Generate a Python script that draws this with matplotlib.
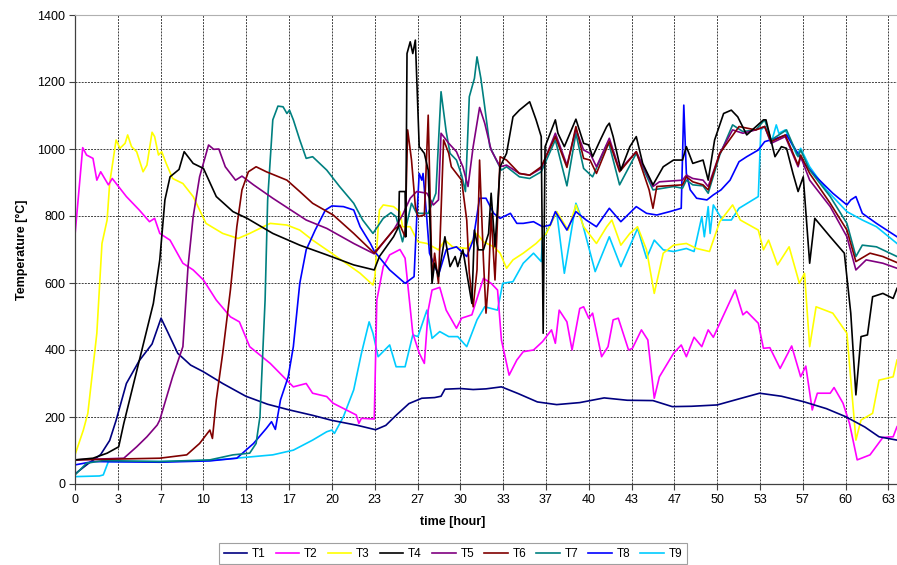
import numpy as np
import matplotlib
matplotlib.use('Agg')
import matplotlib.pyplot as plt
from matplotlib.ticker import FixedLocator, FuncFormatter

plt.rcParams['font.family'] = ['Liberation Sans', 'DejaVu Sans']

# sensor readings, time in hours / temperature in degC
t1 = [0, 1, 2, 2.7, 3.2, 4, 5, 6, 6.7, 7.2, 8, 9, 10, 11.5, 13.3, 15, 16.7, 18.5, 20, 22, 23.4,
      24.2, 25, 26, 27, 28, 28.5, 28.8, 30, 31, 32, 33.2, 34.5, 36, 37.5, 39.3, 41.2, 43, 45, 46.5,
      48, 50, 51.5, 53.3, 55, 56.7, 58.5, 60, 61.5, 62.6, 64]
T1 = [30, 60, 88, 130, 190, 300, 368, 418, 495, 455, 390, 355, 335, 300, 262, 238, 221, 205, 190, 175, 162,
      175, 205, 240, 256, 258, 262, 283, 285, 282, 284, 290, 270, 245, 237, 243, 257, 250, 249, 231,
      232, 236, 252, 271, 262, 246, 225, 201, 170, 141, 131]

t2 = [0, 0.6, 0.9, 1.4, 1.7, 2.0, 2.6, 2.9, 4.0, 5.0, 5.8, 6.2, 6.6, 7.4, 8.4, 9.2, 10.0, 11.0, 12.1,
      12.8, 13.6, 15.2, 17.0, 18.0, 18.5, 19.6, 20.1, 21.9, 22.1, 22.3, 23.3, 23.5, 24.0, 24.5, 25.3,
      25.7, 26.3, 26.8, 27.2, 27.5, 27.8, 28.4, 28.9, 29.7, 30.1, 30.5, 30.9, 31.8, 32.4, 32.9, 33.2,
      33.8, 34.4, 34.9, 35.7, 36.4, 37.1, 37.4, 37.7, 38.3, 38.7, 39.3, 39.6, 40.0, 40.3, 41.0, 41.5,
      41.9, 42.3, 43.1, 43.4, 44.1, 44.6, 45.1, 45.5, 46.6, 47.2, 47.6, 48.2, 48.8, 49.3, 49.7, 51.4,
      52.0, 52.3, 53.2, 53.6, 54.1, 54.9, 55.8, 56.5, 56.9, 57.4, 57.8, 58.8, 59.1, 59.8, 60.3, 60.9,
      61.9, 62.9, 63.7, 64]
T2 = [743, 1004, 982, 972, 907, 932, 893, 912, 858, 818, 783, 793, 748, 728, 659, 639, 609, 549, 499,
      484, 410, 360, 290, 300, 271, 261, 241, 206, 181, 196, 194, 549, 649, 684, 700,
      674, 450, 391, 360, 519, 579, 587, 519, 465, 495, 500, 505, 614, 599, 579, 430,
      325, 370, 395, 400, 425, 460, 420, 519, 484, 400, 524, 529, 495, 510, 380, 410,
      490, 495, 400, 405, 460, 430, 256, 320, 390, 415, 380, 438, 410, 460, 438, 579,
      505, 515, 480, 405, 407, 345, 412, 320, 352, 221, 271, 271, 288, 241, 181, 72,
      87, 139, 141, 171]

t3 = [0, 0.65, 1.0, 1.7, 2.1, 2.5, 2.7, 3.2, 3.5, 3.9, 4.1, 4.4, 4.8, 5.3, 5.6, 6.0, 6.2, 6.5, 6.75,
      7.1, 7.6, 8.4, 9.2, 10.2, 11.5, 12.7, 13.6, 15.2, 16.5, 17.5, 18.5, 19.6, 21.1, 22.2, 23.2,
      23.35, 23.7, 24.0, 24.8, 25.3, 25.5, 26.1, 26.7, 27.4, 28.3, 28.8, 29.4, 30.5, 31.3, 31.8,
      32.6, 33.1, 33.6, 34.1, 34.9, 35.9, 36.7, 37.5, 38.4, 39.0, 39.6, 40.6, 41.4, 41.8, 42.5,
      43.2, 43.8, 44.5, 45.1, 45.8, 46.6, 47.6, 48.4, 49.4, 50.2, 51.2, 51.8, 53.2, 53.6, 54.0,
      54.7, 55.6, 56.4, 56.8, 57.2, 57.7, 59.0, 60.1, 60.8, 61.2, 62.1, 62.6, 63.7, 64]
T3 = [87, 161, 211, 450, 718, 788, 898, 1027, 1002, 1017, 1042, 1007, 992, 932, 952, 1050, 1037, 982, 992,
      957, 912, 897, 858, 778, 748, 733, 748, 778, 773, 758, 728, 699, 659, 629, 594,
      620, 818, 833, 828, 813, 768, 768, 723, 718, 699, 728, 708, 703, 748, 723,
      708, 689, 644, 669, 689, 718, 748, 813, 758, 833, 768, 718, 768, 788, 713,
      748, 768, 699, 569, 689, 713, 718, 703, 694, 783, 833, 788, 758, 699, 728,
      654, 708, 599, 629, 410, 529, 510, 450, 131, 191, 211, 310, 320, 370]

t4 = [0, 1.4, 2.5, 3.4, 3.8, 4.5, 5.4, 6.1, 6.6, 7.0, 7.4, 8.1, 8.5, 9.2, 10.0, 11.0, 12.3, 13.4, 15.4,
      17.5, 19.6, 21.7, 23.3, 23.7, 24.8, 25.2, 25.25, 25.7, 25.75, 25.85, 26.1, 26.3, 26.5, 26.8,
      27.2, 27.5, 27.8, 28.0, 28.3, 28.8, 29.2, 29.6, 29.8, 30.2, 30.9, 31.1, 31.4, 31.8, 32.2,
      32.4, 32.7, 33.1, 33.6, 34.1, 34.6, 35.4, 35.9, 36.3, 36.45, 36.6, 37.0, 37.4, 37.6, 38.1,
      39.0, 39.6, 40.0, 40.3, 40.9, 41.4, 41.6, 41.9, 42.5, 43.2, 43.7, 44.2, 45.0, 45.8, 46.6,
      47.3, 47.6, 48.1, 48.9, 49.3, 49.8, 50.5, 51.1, 51.6, 52.3, 53.6, 53.8, 54.5, 55.0, 55.4,
      55.9, 56.3, 56.7, 57.2, 57.6, 58.8, 59.9, 60.4, 60.8, 61.2, 61.7, 62.1, 62.9, 63.7, 64]
T4 = [72, 77, 92, 111, 181, 290, 430, 539, 669, 848, 917, 939, 992, 957, 942, 858, 813, 793, 748,
      713, 684, 654, 639, 679, 738, 768, 873, 873, 738, 1285, 1320, 1285, 1325, 1007,
      987, 937, 599, 659, 619, 738, 649, 679, 649, 699, 539, 758, 699, 699, 748,
      868, 708, 947, 987, 1096, 1116, 1141, 1087, 1037, 450, 1007, 1047, 1087, 1047, 1007,
      1089, 1017, 1012, 977, 1027, 1067, 1077, 1037, 937, 1007, 1037, 957, 893, 947, 967,
      967, 1007, 957, 967, 907, 1027, 1106, 1116, 1096, 1042, 1087, 1087, 977, 1007, 1002,
      927, 873, 917, 659, 793, 738, 689, 510, 266, 440, 445, 559, 569, 554, 584]

t5 = [0, 3.8, 4.8, 5.6, 6.4, 6.6, 7.6, 8.4, 8.8, 9.2, 9.7, 10.4, 10.8, 11.2, 11.7, 12.5, 13.0, 13.9,
      15.4, 17.0, 18.0, 19.6, 21.7, 23.3, 24.8, 25.5, 26.1, 26.6, 27.4, 27.9, 28.3, 28.5, 29.1,
      29.7, 30.2, 30.6, 31.0, 31.5, 31.9, 32.4, 33.1, 33.6, 34.6, 35.4, 36.3, 37.4, 38.3, 39.0,
      39.6, 40.1, 40.6, 41.6, 42.4, 43.7, 45.0, 45.5, 47.3, 47.6, 48.1, 48.9, 49.3, 50.2, 51.2,
      52.0, 53.0, 53.7, 54.2, 55.3, 56.3, 56.5, 57.2, 58.8, 60.1, 60.8, 61.6, 62.9, 64]
T5 = [72, 77, 111, 141, 176, 191, 320, 410, 649, 798, 917, 1012, 999, 1000, 947, 907, 919, 893,
      853, 813, 788, 763, 718, 687, 758, 803, 853, 873, 868, 833, 848, 1047, 1017,
      992, 947, 888, 1007, 1124, 1077, 997, 947, 952, 927, 922, 942, 1047, 952, 1059,
      997, 987, 947, 1032, 937, 992, 888, 902, 907, 922, 912, 907, 888, 987, 1057,
      1047, 1057, 1067, 1017, 1037, 947, 977, 907, 828, 738, 639, 669, 659, 644]

t6 = [0, 6.6, 8.7, 9.7, 10.5, 10.7, 11.0, 11.5, 12.1, 12.6, 13.0, 13.5, 14.1, 14.9, 16.5, 17.5, 18.5,
      20.1, 21.7, 23.3, 24.8, 25.3, 25.7, 25.9, 26.2, 26.5, 26.7, 27.2, 27.5, 27.8, 28.0, 28.3,
      28.7, 29.1, 29.3, 29.7, 30.1, 30.5, 30.7, 31.0, 31.3, 31.5, 31.8, 32.0, 32.2, 32.4, 32.7,
      33.1, 33.6, 34.6, 35.4, 36.3, 37.4, 38.3, 39.0, 39.6, 40.1, 40.6, 41.6, 42.4, 43.7, 44.7,
      45.0, 45.3, 47.3, 47.6, 48.1, 48.9, 49.3, 50.2, 51.7, 53.0, 53.7, 54.2, 55.3, 56.3, 56.5,
      57.2, 58.8, 60.1, 60.8, 61.9, 62.9, 64]
T6 = [72, 77, 87, 121, 161, 136, 251, 390, 579, 768, 878, 932, 947, 932, 907, 873, 838,
      803, 748, 689, 758, 773, 738, 1057, 967, 828, 798, 803, 1101, 609, 689, 599,
      1027, 987, 947, 927, 907, 788, 629, 529, 639, 967, 669, 510, 609, 808, 609,
      977, 967, 927, 922, 947, 1037, 945, 1067, 972, 967, 927, 1022, 932, 992, 878,
      823, 888, 893, 917, 902, 893, 878, 987, 1067, 1057, 1067, 1022, 1042, 952, 982,
      927, 838, 758, 664, 689, 679, 661]

t7 = [0, 0.9, 2.2, 6.6, 10.5, 12.3, 13.6, 14.1, 14.4, 14.8, 15.0, 15.4, 15.8, 16.2, 16.5, 16.7, 17.0,
      17.5, 18.0, 18.5, 19.6, 20.6, 21.7, 22.4, 23.2, 24.0, 24.6, 25.0, 25.5, 25.9, 26.2, 26.6,
      27.5, 28.1, 28.5, 28.9, 29.2, 29.7, 30.1, 30.4, 30.7, 31.1, 31.3, 31.6, 31.9, 32.3, 32.8,
      33.2, 33.6, 34.6, 35.4, 36.3, 37.4, 38.3, 39.0, 39.6, 40.3, 41.4, 41.6, 42.4, 43.7, 45.0,
      46.6, 47.3, 47.6, 48.1, 48.9, 49.3, 50.2, 51.2, 52.0, 53.0, 53.7, 54.2, 55.4, 56.3, 56.5,
      57.2, 58.8, 60.1, 60.8, 61.3, 62.4, 64]
T7 = [27, 62, 70, 67, 72, 87, 92, 121, 201, 549, 848, 1087, 1128, 1126, 1106, 1116, 1087,
      1027, 972, 977, 937, 888, 838, 788, 748, 793, 810, 798, 723, 788, 838, 808,
      808, 868, 1171, 1052, 987, 967, 922, 873, 1156, 1211, 1275, 1211, 1126, 1007, 967,
      937, 947, 917, 912, 932, 1027, 890, 1047, 942, 917, 1012, 1012, 893, 987, 878,
      888, 883, 907, 893, 890, 868, 982, 1072, 1052, 1057, 1087, 1027, 1057, 977, 997,
      937, 858, 778, 679, 713, 708, 679]

t8 = [0, 1.4, 6.6, 10.5, 12.6, 13.9, 14.9, 15.3, 15.6, 16.0, 16.6, 17.0, 17.5, 18.0, 18.7, 19.5, 20.0,
      20.9, 21.7, 22.2, 23.0, 23.3, 24.5, 25.7, 26.4, 26.6, 26.8, 27.0, 27.1, 27.4, 27.6, 28.3,
      28.9, 29.7, 30.5, 31.0, 31.5, 32.0, 32.6, 33.1, 33.9, 34.4, 34.9, 35.7, 36.4, 37.0, 37.4,
      38.3, 39.0, 39.8, 40.6, 41.6, 42.5, 43.7, 44.5, 45.3, 46.3, 47.2, 47.4, 47.6, 47.9, 48.4,
      49.2, 49.7, 50.3, 51.0, 51.7, 52.3, 53.2, 53.7, 54.6, 55.4, 56.2, 56.8, 57.7, 59.0, 60.1,
      60.4, 60.8, 61.3, 62.4, 64]
T8 = [57, 67, 65, 69, 77, 121, 166, 186, 163, 251, 320, 410, 599, 699, 758, 818, 830,
      828, 818, 768, 718, 695, 639, 599, 619, 788, 927, 907, 927, 788, 689, 624,
      699, 708, 679, 728, 853, 853, 808, 793, 808, 778, 778, 783, 768, 773, 813,
      758, 813, 788, 768, 823, 783, 828, 808, 803, 813, 823, 1131, 927, 878, 853,
      848, 863, 878, 907, 962, 977, 997, 1022, 1032, 1042, 992, 957, 917, 868, 833,
      848, 858, 808, 778, 738]

t9 = [0, 1.9, 2.2, 2.6, 6.6, 10.5, 15.4, 17.0, 18.5, 19.6, 20.0, 20.2, 20.9, 21.7, 22.3, 22.9, 23.2,
      23.6, 24.5, 25.0, 25.7, 26.3, 26.7, 27.4, 27.8, 28.4, 29.1, 29.8, 30.5, 31.3, 31.9, 32.9,
      33.3, 34.1, 34.9, 35.7, 36.3, 36.4, 37.5, 38.1, 39.0, 39.3, 40.5, 41.6, 42.5, 43.8, 44.5,
      45.1, 45.8, 46.6, 47.6, 48.2, 48.8, 49.0, 49.3, 49.45, 49.7, 50.4, 51.1, 51.7, 53.2, 53.4,
      53.7, 54.2, 54.6, 54.8, 55.3, 56.2, 56.5, 57.2, 58.5, 60.1, 61.3, 62.4, 64]
T9 = [22, 24, 27, 67, 67, 70, 87, 101, 131, 156, 161, 151, 201, 281, 390, 484, 450,
      380, 415, 350, 350, 445, 440, 519, 435, 455, 440, 440, 410, 490, 529, 519,
      599, 604, 659, 689, 664, 728, 813, 629, 838, 808, 634, 738, 649, 763, 674,
      728, 699, 694, 703, 694, 798, 738, 828, 748, 833, 788, 788, 823, 858, 1057,
      1067, 1017, 1072, 1047, 1057, 982, 1002, 947, 878, 813, 788, 768, 718]

names = ['T1', 'T2', 'T3', 'T4', 'T5', 'T6', 'T7', 'T8', 'T9']
colors = ['#000080', '#FF00FF', '#FFFF00', '#000000', '#800080', '#800000', '#008080', '#0000FF', '#00CCFF']
series = [(t1, T1), (t2, T2), (t3, T3), (t4, T4), (t5, T5), (t6, T6), (t7, T7), (t8, T8), (t9, T9)]

fig = plt.figure(figsize=(8.97, 5.65), dpi=100)
ax = fig.add_axes([75/897, 1 - 484/565, 822/897, 469/565])

# draw T9 first so the darker lines sit on top, roughly like the original
order = [8, 2, 1, 0, 7, 6, 4, 5, 3]
lines = {}
for i in order:
    t, v = series[i]
    ln, = ax.plot(t, v, color=colors[i], lw=1.2, label=names[i])
    lines[i] = ln

ax.set_xlim(0, 64)
ax.set_ylim(0, 1400)
xt = [i * 10 / 3 for i in range(20)]
ax.xaxis.set_major_locator(FixedLocator(xt))
ax.xaxis.set_major_formatter(FuncFormatter(lambda x, p: '%d' % round(x)))
ax.set_yticks(np.arange(0, 1401, 200))

ax.grid(True, color='#404040', linestyle=(0, (2, 1.2)), linewidth=0.7)
ax.set_axisbelow(True)
for s in ['left', 'bottom']:
    ax.spines[s].set_color('#404040')
    ax.spines[s].set_linewidth(0.9)
ax.spines['top'].set_color('#b0b0b0')
ax.spines['right'].set_visible(False)
ax.tick_params(direction='out', length=4, width=0.8, color='#404040', labelsize=9, pad=3)

fig.text(453/897, 1 - 522/565, 'time [hour]', ha='center', va='center', fontsize=9, fontweight='bold')
fig.text(22/897, 1 - 250/565, 'Temperature [°C]', ha='center', va='center', rotation=90,
         fontsize=9, fontweight='bold')

leg = fig.legend([lines[i] for i in range(9)], names, loc='upper center',
                 bbox_to_anchor=(453/897, 1 - 543/565), ncol=9, fontsize=8.5,
                 frameon=True, fancybox=False, edgecolor='#888888', borderaxespad=0,
                 handlelength=2.0, handletextpad=0.4, columnspacing=0.85, borderpad=0.4)
leg.get_frame().set_linewidth(0.8)

fig.savefig('out.png', dpi=100)
